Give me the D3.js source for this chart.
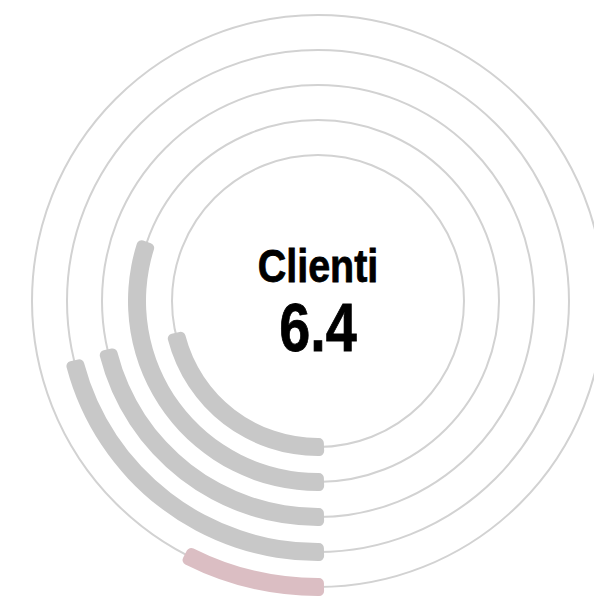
<!DOCTYPE html>
<html>
<head>
<meta charset="utf-8">
<script src="https://cdn.jsdelivr.net/npm/d3@7"></script>
<style>
  body { margin: 0; background: #fff; }
  svg { display: block; }
</style>
</head>
<body>
<svg id="chart"></svg>
<script>
// Data: rings from inner to outer
const rings = ["A", "B", "C", "D", "E"];
const values = [2.15, 3.03, 2.14, 2.12, 0.77];
const colors = ["#c8c8c8", "#c8c8c8", "#c8c8c8", "#c8c8c8", "#dbbec3"];
const label = "Clienti";
const total = "6.4";

const width = 594;
const height = 599;
const cx = 318, cy = 301;

const svg = d3.select("#chart")
  .attr("width", width)
  .attr("height", height);

const g = svg.append("g")
  .attr("transform", `translate(${cx},${cy})`);

// Radius per ring
const rScale = d3.scalePoint()
  .domain(rings)
  .range([146, 286]);

// Value to angle, starting at the bottom and going clockwise
const aScale = d3.scaleLinear()
  .domain([0, 10])
  .range([0, 2 * Math.PI]);

const barWidth = 18;

// Thin background circles
g.selectAll(".ring")
  .data(rings)
  .enter()
  .append("circle")
  .attr("class", "ring")
  .attr("r", d => rScale(d))
  .attr("fill", "none")
  .attr("stroke", "#d2d2d2")
  .attr("stroke-width", 2);

// Arcs
const arc = d3.arc()
  .innerRadius(d => rScale(d.ring) - barWidth / 2)
  .outerRadius(d => rScale(d.ring) + barWidth / 2)
  .startAngle(d => Math.PI - 6 / rScale(d.ring))
  .endAngle(d => Math.PI + aScale(d.value))
  .cornerRadius(5);

g.selectAll(".bar")
  .data(rings.map((r, i) => ({ ring: r, value: values[i], color: colors[i] })))
  .enter()
  .append("path")
  .attr("class", "bar")
  .attr("d", arc)
  .attr("fill", d => d.color);

// Center labels (narrowed bold sans)
g.append("text")
  .attr("transform", "translate(0,-19) scale(0.84,1)")
  .attr("text-anchor", "middle")
  .style("font-family", "'Liberation Sans', Arial, sans-serif")
  .style("font-weight", "bold")
  .style("font-size", "47px")
  .attr("fill", "#000")
  .attr("stroke", "#000")
  .attr("stroke-width", 0.8)
  .text(label);

g.append("text")
  .attr("transform", "translate(0,50) scale(0.82,1)")
  .attr("text-anchor", "middle")
  .style("font-family", "'Liberation Sans', Arial, sans-serif")
  .style("font-weight", "bold")
  .style("font-size", "68px")
  .attr("fill", "#000")
  .attr("stroke", "#000")
  .attr("stroke-width", 0.8)
  .text(total);
</script>
</body>
</html>
